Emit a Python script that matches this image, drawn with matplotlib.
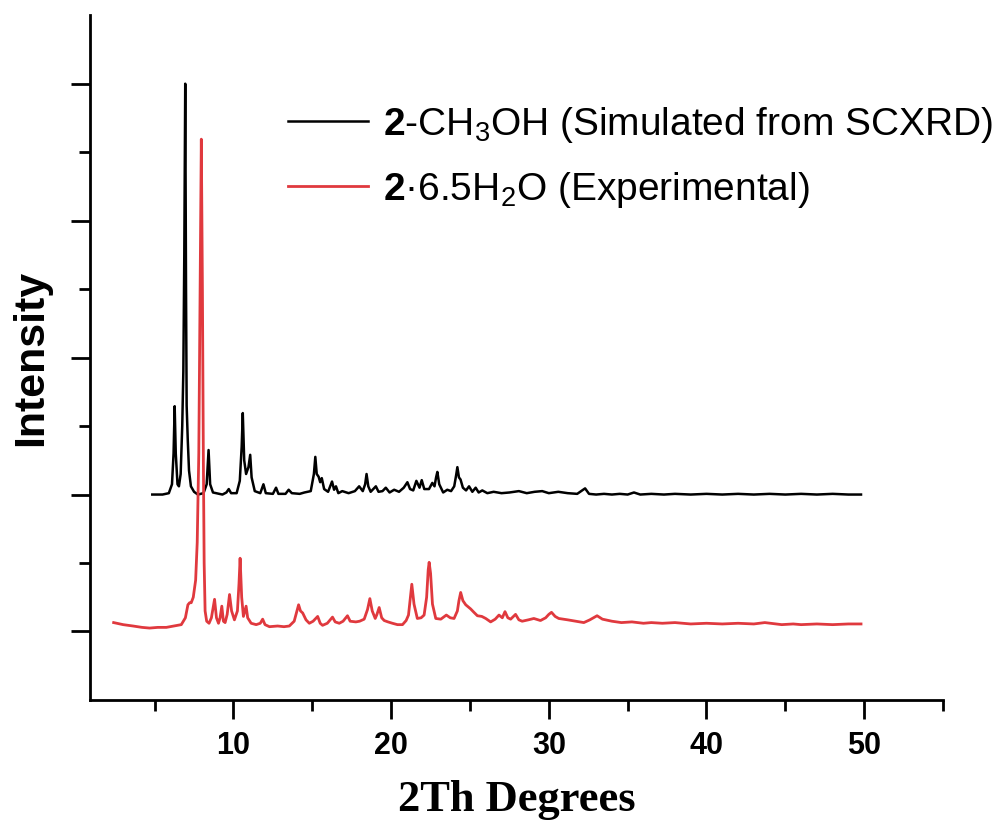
import numpy as np
import matplotlib
matplotlib.use("Agg")
import matplotlib.pyplot as plt

# trace vertices: (2theta, intensity in arbitrary offset units)
sim_pts = [
    (4.85, 2.0), (5.5, 2.0), (5.9, 2.02), (6.1, 2.15), (6.2, 2.6), (6.27, 3.29), (6.34, 2.6),
    (6.45, 2.15), (6.54, 2.12), (6.65, 2.3), (6.75, 3.0), (6.82, 3.8), (6.88, 5.5), (6.94, 8.0),
    (6.99, 5.0), (7.03, 3.3), (7.06, 3.1), (7.1, 2.8), (7.18, 2.35), (7.3, 2.12), (7.5, 2.04),
    (7.74, 2.0), (8.1, 2.02), (8.3, 2.15), (8.42, 2.65), (8.52, 2.15), (8.7, 2.03), (9.3, 2.0),
    (9.55, 2.03), (9.7, 2.08), (9.85, 2.02), (10.2, 2.02), (10.4, 2.2), (10.52, 2.7), (10.59, 3.19),
    (10.68, 2.5), (10.8, 2.3), (10.95, 2.4), (11.06, 2.58), (11.15, 2.25), (11.35, 2.05),
    (11.7, 2.02), (11.9, 2.15), (12.05, 2.02), (12.5, 2.01), (12.7, 2.1), (12.85, 2.01),
    (13.3, 2.01), (13.5, 2.07), (13.7, 2.02), (14.2, 2.01), (14.5, 2.03), (14.9, 2.05),
    (15.1, 2.3), (15.19, 2.55), (15.28, 2.3), (15.4, 2.26), (15.5, 2.18), (15.6, 2.24),
    (15.75, 2.08), (16.0, 2.04), (16.25, 2.19), (16.38, 2.07), (16.5, 2.12), (16.65, 2.02),
    (16.9, 2.05), (17.3, 2.02), (17.7, 2.05), (17.97, 2.12), (18.2, 2.05), (18.35, 2.15),
    (18.44, 2.3), (18.55, 2.12), (18.7, 2.04), (19.03, 2.12), (19.2, 2.04), (19.45, 2.05),
    (19.66, 2.1), (19.9, 2.03), (20.19, 2.07), (20.5, 2.04), (20.8, 2.1), (21.03, 2.18),
    (21.2, 2.08), (21.4, 2.06), (21.6, 2.2), (21.8, 2.1), (21.94, 2.21), (22.1, 2.08),
    (22.4, 2.08), (22.61, 2.17), (22.75, 2.12), (22.85, 2.25), (22.93, 2.33), (23.05, 2.15),
    (23.3, 2.03), (23.56, 2.07), (23.8, 2.05), (24.0, 2.12), (24.12, 2.28), (24.2, 2.4),
    (24.3, 2.25), (24.4, 2.22), (24.55, 2.1), (24.75, 2.06), (24.94, 2.12), (25.15, 2.04),
    (25.36, 2.1), (25.55, 2.03), (25.78, 2.06), (26.1, 2.02), (26.5, 2.04), (27.0, 2.02),
    (27.5, 2.03), (28.1, 2.05), (28.6, 2.02), (29.1, 2.04), (29.58, 2.05), (30.0, 2.02),
    (30.6, 2.04), (31.2, 2.02), (31.8, 2.01), (32.05, 2.05), (32.3, 2.09), (32.55, 2.01),
    (33.0, 2.0), (33.5, 2.01), (34.0, 2.0), (34.5, 2.01), (35.0, 2.0), (35.4, 2.03),
    (35.8, 2.0), (36.5, 2.01), (37.3, 2.0), (38.0, 2.01), (39.0, 2.0), (40.0, 2.01),
    (41.0, 2.0), (42.0, 2.01), (43.0, 2.0), (44.0, 2.01), (45.0, 2.0), (46.0, 2.01),
    (47.0, 2.0), (48.0, 2.01), (49.0, 2.0), (49.8, 2.0),
]

exp_pts = [
    (2.4, 0.13), (3.0, 0.1), (3.63, 0.08), (4.2, 0.06), (4.68, 0.05), (5.2, 0.06), (5.74, 0.06),
    (6.2, 0.08), (6.69, 0.1), (6.95, 0.2), (7.11, 0.39), (7.22, 0.42), (7.32, 0.42), (7.45, 0.5),
    (7.6, 0.75), (7.7, 1.3), (7.8, 2.6), (7.88, 5.0), (7.96, 7.19), (8.03, 5.0), (8.09, 2.5),
    (8.14, 1.0), (8.2, 0.3), (8.3, 0.15), (8.45, 0.12), (8.6, 0.2), (8.8, 0.47), (8.92, 0.2),
    (9.05, 0.12), (9.15, 0.2), (9.26, 0.37), (9.36, 0.15), (9.47, 0.13), (9.6, 0.25), (9.75, 0.54),
    (9.88, 0.3), (10.06, 0.17), (10.25, 0.3), (10.35, 0.7), (10.42, 1.07), (10.52, 0.5),
    (10.63, 0.22), (10.72, 0.3), (10.8, 0.37), (10.9, 0.2), (11.12, 0.12), (11.44, 0.1),
    (11.7, 0.12), (11.85, 0.18), (12.0, 0.1), (12.28, 0.07), (12.8, 0.08), (13.2, 0.07),
    (13.54, 0.08), (13.85, 0.15), (14.0, 0.28), (14.13, 0.39), (14.25, 0.3), (14.39, 0.27),
    (14.6, 0.17), (14.81, 0.12), (15.05, 0.15), (15.34, 0.22), (15.5, 0.12), (15.65, 0.09),
    (15.95, 0.12), (16.28, 0.21), (16.45, 0.14), (16.71, 0.12), (16.95, 0.15), (17.23, 0.23),
    (17.4, 0.15), (17.76, 0.14), (18.0, 0.15), (18.29, 0.18), (18.5, 0.32), (18.65, 0.48),
    (18.8, 0.3), (18.99, 0.19), (19.1, 0.25), (19.24, 0.35), (19.4, 0.2), (19.56, 0.16),
    (19.8, 0.14), (20.08, 0.12), (20.4, 0.1), (20.72, 0.1), (20.95, 0.16), (21.1, 0.24),
    (21.2, 0.45), (21.31, 0.69), (21.45, 0.4), (21.66, 0.19), (21.9, 0.2), (22.09, 0.24),
    (22.25, 0.5), (22.35, 0.9), (22.41, 1.01), (22.5, 0.85), (22.62, 0.4), (22.83, 0.19),
    (23.15, 0.18), (23.5, 0.24), (23.75, 0.2), (23.99, 0.19), (24.2, 0.3), (24.3, 0.45),
    (24.41, 0.57), (24.55, 0.45), (24.73, 0.39), (25.04, 0.33), (25.25, 0.28), (25.47, 0.23),
    (25.75, 0.22), (26.0, 0.19), (26.31, 0.14), (26.6, 0.18), (26.84, 0.24), (27.05, 0.2),
    (27.22, 0.29), (27.4, 0.2), (27.58, 0.18), (27.89, 0.25), (28.1, 0.17), (28.31, 0.15),
    (28.7, 0.17), (29.05, 0.19), (29.47, 0.16), (29.8, 0.2), (30.0, 0.25), (30.17, 0.28),
    (30.4, 0.22), (30.63, 0.19), (31.2, 0.17), (31.69, 0.15), (32.22, 0.13), (32.6, 0.17),
    (33.06, 0.23), (33.4, 0.18), (34.0, 0.15), (34.6, 0.13), (35.27, 0.14), (36.0, 0.12),
    (36.5, 0.13), (37.2, 0.12), (38.0, 0.13), (39.0, 0.11), (40.0, 0.12), (41.0, 0.11),
    (42.0, 0.12), (43.0, 0.11), (43.7, 0.13), (44.77, 0.1), (45.5, 0.11), (46.0, 0.1),
    (47.0, 0.11), (48.0, 0.1), (49.0, 0.11), (49.8, 0.11),
]

sim_label = r"$\mathbf{2}$-CH$_3$OH (Simulated from SCXRD)"
exp_label = r"$\mathbf{2}$·6.5H$_2$O (Experimental)"
x_major = [10, 20, 30, 40, 50]

plt.rcParams["font.family"] = ["Liberation Sans", "DejaVu Sans"]
plt.rcParams["mathtext.fontset"] = "custom"
plt.rcParams["mathtext.rm"] = "Liberation Sans"
plt.rcParams["mathtext.it"] = "Liberation Sans:italic"
plt.rcParams["mathtext.bf"] = "Liberation Sans:bold"

sim_x, sim_y = np.array(sim_pts).T
exp_x, exp_y = np.array(exp_pts).T

fig = plt.figure(figsize=(10, 8.23), dpi=100)
ax = fig.add_axes([0.09, 0.1495, 0.853, 0.832])

ax.plot(sim_x, sim_y, color="black", lw=1.8, label=sim_label)
ax.plot(exp_x, exp_y, color="#e0393e", lw=2.0, label=exp_label)

ax.set_xlim(0.9, 55)
ax.set_ylim(-1, 9)
ax.set_xticks(x_major)
ax.set_xticks(np.arange(5, 56, 10), minor=True)
ax.set_yticks([0, 2, 4, 6, 8])
ax.set_yticks([1, 3, 5, 7], minor=True)
ax.set_yticklabels([])

for side in ("top", "right"):
    ax.spines[side].set_visible(False)
for side in ("left", "bottom"):
    ax.spines[side].set_linewidth(2)

ax.tick_params(which="major", direction="out", length=14, width=2, labelsize=22, pad=8)
ax.tick_params(which="minor", direction="out", length=8, width=2)
for lab in ax.get_xticklabels():
    lab.set_fontweight("bold")

ax.set_xlabel("2Th Degrees", family="Liberation Serif", fontweight="bold", fontsize=32, labelpad=14)
ax.set_ylabel("Intensity", fontweight="bold", fontsize=31)
ax.yaxis.set_label_coords(-0.045, 0.5)

ax.legend(loc="upper left", bbox_to_anchor=(0.288, 0.873), bbox_transform=fig.transFigure,
          frameon=False, fontsize=28, handlelength=2.05, handletextpad=0.4,
          labelspacing=0.65, borderpad=0, borderaxespad=0)

fig.savefig("out.png", dpi=100)
